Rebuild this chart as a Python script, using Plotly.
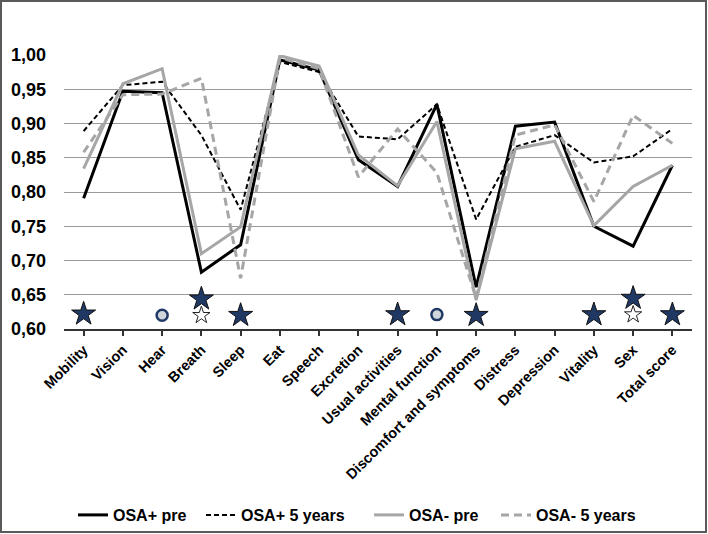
import plotly.graph_objects as go

categories = ["Mobility", "Vision", "Hear", "Breath", "Sleep", "Eat", "Speech",
              "Excretion", "Usual activities", "Mental function",
              "Discomfort and symptoms", "Distress", "Depression", "Vitality",
              "Sex", "Total score"]

osa_pos_pre = [0.791, 0.947, 0.945, 0.683, 0.723, 0.993, 0.978, 0.847, 0.808,
               0.928, 0.661, 0.896, 0.902, 0.750, 0.721, 0.839]
osa_pos_5y = [0.889, 0.956, 0.961, 0.883, 0.774, 0.990, 0.975, 0.881, 0.877,
              0.928, 0.760, 0.866, 0.883, 0.843, 0.852, 0.892]
osa_neg_pre = [0.834, 0.958, 0.980, 0.710, 0.749, 0.999, 0.984, 0.854, 0.809,
               0.903, 0.642, 0.863, 0.874, 0.751, 0.808, 0.839]
osa_neg_5y = [0.858, 0.942, 0.943, 0.966, 0.674, 0.996, 0.980, 0.822, 0.892,
              0.828, 0.645, 0.883, 0.898, 0.786, 0.912, 0.871]

# significance markers
star_cats = ["Mobility", "Breath", "Sleep", "Usual activities",
             "Discomfort and symptoms", "Vitality", "Sex", "Total score"]
star_vals = [0.622, 0.644, 0.620, 0.621, 0.620, 0.621, 0.645, 0.621]
open_star_cats = ["Breath", "Sex"]
open_star_vals = [0.620, 0.621]
circle_cats = ["Hear", "Mental function"]
circle_vals = [0.620, 0.621]

y_ticks = [0.60, 0.65, 0.70, 0.75, 0.80, 0.85, 0.90, 0.95, 1.00]

GRAY = "#A6A6A6"
NAVY = "#1F3864"
FONT = "Liberation Sans, Arial, sans-serif"

L, R, T, B = 64, 16, 55, 205
W, H = 708, 534
pw, ph = W - L - R, H - T - B

series = [
    ("OSA+ pre", osa_pos_pre, dict(color="black", width=3)),
    ("OSA+ 5 years", osa_pos_5y, dict(color="black", width=2, dash="5px,3px")),
    ("OSA- pre", osa_neg_pre, dict(color=GRAY, width=3)),
    ("OSA- 5 years", osa_neg_5y, dict(color=GRAY, width=3, dash="8px,5px")),
]
legend_left_px = [73, 201, 369, 496]
legend_names = ["legend", "legend2", "legend3", "legend4"]

fig = go.Figure()
for (name, vals, line), lg in zip(series, legend_names):
    fig.add_trace(go.Scatter(x=categories, y=vals, mode="lines", name=name,
                             line=line, legend=lg))

fig.add_trace(go.Scatter(x=star_cats, y=star_vals, mode="markers", showlegend=False,
                         marker=dict(symbol="star", size=18, color=NAVY,
                                     line=dict(color="#111111", width=1))))
fig.add_trace(go.Scatter(x=open_star_cats, y=open_star_vals, mode="markers", showlegend=False,
                         marker=dict(symbol="star", size=13, color="white",
                                     line=dict(color="#222222", width=1))))
fig.add_trace(go.Scatter(x=circle_cats, y=circle_vals, mode="markers", showlegend=False,
                         marker=dict(symbol="circle", size=11, color="#D0D5DC",
                                     line=dict(color=NAVY, width=2.5))))

legend_style = dict(orientation="h", xanchor="left",
                    y=(ph - (515 - T)) / ph, yanchor="middle",
                    font=dict(family=FONT, size=16, color="black", weight="bold"),
                    itemwidth=30, bgcolor="rgba(0,0,0,0)")
legends = {lg: dict(legend_style, x=(px - L) / pw)
           for lg, px in zip(legend_names, legend_left_px)}

fig.update_layout(
    width=W, height=H,
    margin=dict(l=L, r=R, t=T, b=B, autoexpand=False),
    paper_bgcolor="white", plot_bgcolor="white",
    separators=",.",
    font=dict(family=FONT, color="black"),
    showlegend=True,
    hovermode=False,
    shapes=[dict(type="rect", xref="paper", yref="paper",
                 x0=(1 - L) / pw, x1=(W - 2 - L) / pw,
                 y0=(ph - (H - 2 - T)) / ph, y1=(ph - (1 - T)) / ph,
                 line=dict(color="#5A5A5A", width=2), fillcolor="rgba(0,0,0,0)",
                 layer="below")],
    **legends,
)

fig.update_xaxes(type="category", categoryorder="array", categoryarray=categories,
                 range=[-0.5, len(categories) - 0.5], automargin=False,
                 tickangle=-45, tickfont=dict(family=FONT, size=14.5, color="black", weight="bold"),
                 showline=True, linecolor="#333333", linewidth=1.5,
                 ticks="outside", ticklen=5, tickcolor="#333333", tickwidth=1.5,
                 showgrid=False, zeroline=False)
fig.update_yaxes(range=[0.6, 1.0], tickvals=y_ticks, tickformat=".2f", automargin=False,
                 tickfont=dict(family=FONT, size=18, color="black", weight="bold"),
                 showgrid=True, gridcolor="#9A9A9A", gridwidth=1.3,
                 showline=False, zeroline=False, ticks="", ticklabelstandoff=17)

fig.write_html("out.html", config={"displayModeBar": False},
               post_script="document.body.style.margin='0px';")
